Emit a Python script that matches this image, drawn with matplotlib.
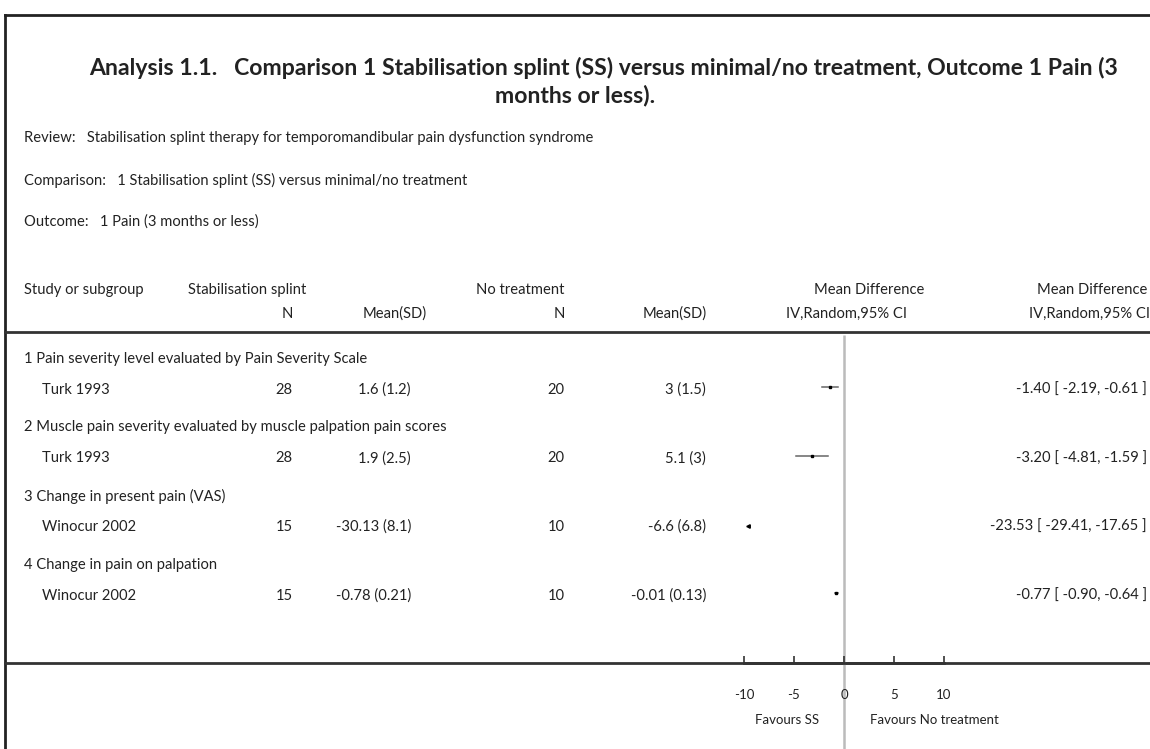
import matplotlib.pyplot as plt

# Data
groups = [
    "1 Pain severity level evaluated by Pain Severity Scale",
    "2 Muscle pain severity evaluated by muscle palpation pain scores",
    "3 Change in present pain (VAS)",
    "4 Change in pain on palpation",
]
studies = ["Turk 1993", "Turk 1993", "Winocur 2002", "Winocur 2002"]
ss_n = [28, 28, 15, 15]
ss_mean_sd = ["1.6 (1.2)", "1.9 (2.5)", "-30.13 (8.1)", "-0.78 (0.21)"]
nt_n = [20, 20, 10, 10]
nt_mean_sd = ["3 (1.5)", "5.1 (3)", "-6.6 (6.8)", "-0.01 (0.13)"]
md = [-1.40, -3.20, -23.53, -0.77]
lo = [-2.19, -4.81, -29.41, -0.90]
hi = [-0.61, -1.59, -17.65, -0.64]
ticks = [-10, -5, 0, 5, 10]

W, H = 1150, 749
FONT = "Lato"
TXT = "#222222"
fs = 10.6

fig = plt.figure(figsize=(W / 100, H / 100), dpi=100)
bg = fig.add_axes([0, 0, 1, 1])
bg.set_xlim(0, W)
bg.set_ylim(H, 0)
bg.axis("off")


def txt(x, y, s, ha="left", size=fs, weight="normal"):
    bg.text(x, y, s, ha=ha, va="center", fontsize=size, fontweight=weight,
            family=FONT, color=TXT)


# frame
bg.plot([5, W], [15, 15], color="#222222", lw=2)
bg.plot([5, 5], [15, H], color="#222222", lw=2)

# title
txt(604, 68, "Analysis 1.1.   Comparison 1 Stabilisation splint (SS) versus minimal/no treatment, Outcome 1 Pain (3",
    ha="center", size=16.6, weight="bold")
txt(575, 96, "months or less).", ha="center", size=16.6, weight="bold")

txt(24, 138, "Review:   Stabilisation splint therapy for temporomandibular pain dysfunction syndrome")
txt(24, 180, "Comparison:   1 Stabilisation splint (SS) versus minimal/no treatment")
txt(24, 222, "Outcome:   1 Pain (3 months or less)")

# column headers
txt(24, 290, "Study or subgroup")
txt(188, 290, "Stabilisation splint")
txt(565, 290, "No treatment", ha="right")
txt(869, 290, "Mean Difference", ha="center")
txt(1147, 290, "Mean Difference", ha="right")
txt(293, 314, "N", ha="right")
txt(395, 314, "Mean(SD)", ha="center")
txt(565, 314, "N", ha="right")
txt(707, 314, "Mean(SD)", ha="right")
txt(847, 314, "IV,Random,95% CI", ha="center")
txt(1150, 314, "IV,Random,95% CI", ha="right")

bg.plot([5, W], [332, 332], color="#333333", lw=2)
bg.plot([5, W], [663, 663], color="#333333", lw=2)

# forest axes: 0 at x=844, 10 px per unit
fx = fig.add_axes([744 / W, 0, 200 / W, 1])
fx.set_xlim(-10, 10)
fx.set_ylim(H, 0)
fx.patch.set_alpha(0)
for s in ["top", "left", "right"]:
    fx.spines[s].set_visible(False)
fx.spines["bottom"].set_position(("data", 663))
fx.spines["bottom"].set_color("#333333")
fx.spines["bottom"].set_linewidth(2)
fx.set_yticks([])
fx.set_xticks(ticks)
fx.set_xticklabels([str(t) for t in ticks], family=FONT, fontsize=9.5, color=TXT)
fx.tick_params(axis="x", direction="in", length=5, width=1.2, pad=19, color="#333333")
fx.vlines(0, 335, H, color="#bbbbbb", lw=1.8, zorder=0)

for i in range(len(groups)):
    gy = 359 + 68.5 * i
    sy = 390 + 68.5 * i
    txt(24, gy, groups[i])
    txt(42, sy, studies[i])
    txt(293, sy, str(ss_n[i]), ha="right")
    txt(411, sy, ss_mean_sd[i], ha="right")
    txt(565, sy, str(nt_n[i]), ha="right")
    txt(706, sy, nt_mean_sd[i], ha="right")
    txt(1147, sy, f"{md[i]:.2f} [ {lo[i]:.2f}, {hi[i]:.2f} ]", ha="right")

    if lo[i] >= -10:
        fx.plot([lo[i], hi[i]], [sy - 3, sy - 3], color="#666666", lw=1.1)
        fx.plot(md[i], sy - 3, marker="s", ms=1.7, color="black")
    else:
        fx.plot(max(md[i], -9.6), sy - 1, marker="<", ms=2.5, color="black")

txt(787, 720, "Favours SS", ha="center", size=9.5)
txt(934, 720, "Favours No treatment", ha="center", size=9.5)

fig.savefig("out.png", dpi=100)
